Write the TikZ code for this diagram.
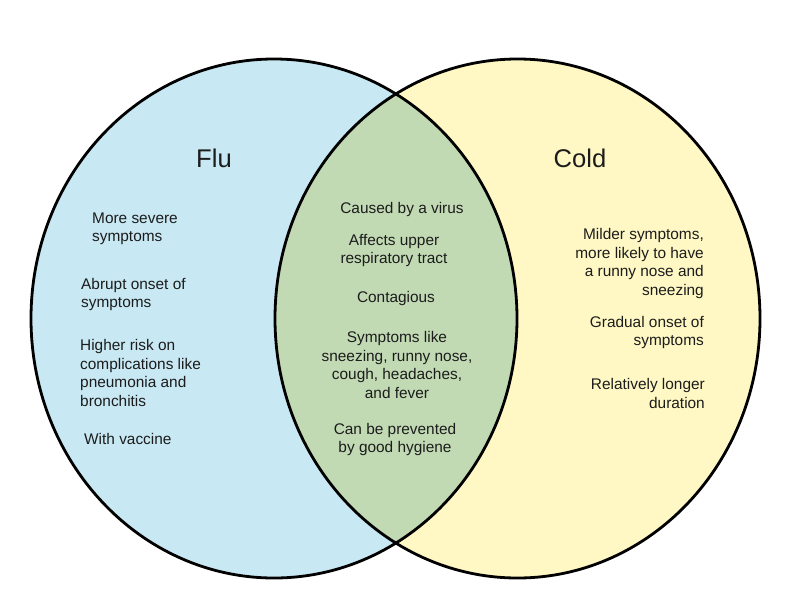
\documentclass[tikz,border=0pt]{standalone}
\usepackage{fontspec}
\setmainfont{Liberation Sans}
\definecolor{flublue}{HTML}{C8E8F3}
\definecolor{coldyellow}{HTML}{FFF8C4}
\definecolor{bothgreen}{HTML}{C1DAB4}
\definecolor{ink}{HTML}{1C1C1C}
\begin{document}
\begin{tikzpicture}[x=1pt,y=-1pt,
  outline/.style={draw=black,line width=2.8pt},
  settitle/.style={inner sep=0pt,text=ink,font=\fontsize{25.6}{30}\selectfont},
  item/.style={inner sep=0pt,text=ink,font=\fontsize{15.4}{18.4}\selectfont},
  itemL/.style={item,align=left,anchor=west},
  itemC/.style={item,align=center},
  itemR/.style={item,align=right,anchor=east}]
\useasboundingbox (0,0) rectangle (800,600);
\fill[white] (0,0) rectangle (800,600);
\coordinate (L) at (274,318.5);
\coordinate (R) at (517.5,318.5);
\def\ellL{(L) ellipse [x radius=243pt, y radius=259.5pt]}
\def\ellR{(R) ellipse [x radius=242.5pt, y radius=259.5pt]}
\fill[flublue] \ellL;
\fill[coldyellow] \ellR;
\begin{scope}
  \clip \ellL;
  \fill[bothgreen] \ellR;
\end{scope}
\draw[outline] \ellL;
\draw[outline] \ellR;
% titles
\node[settitle] (flu) at (214,158) {Flu};
\node[settitle] (cold) at (580,158) {Cold};
% flu only
\node[itemL] (f1) at (92,229) {More severe\\symptoms};
\node[itemL] (f2) at (81,294.5) {Abrupt onset of\\symptoms};
\node[itemL] (f3) at (80,373) {Higher risk on\\complications like\\pneumonia and\\bronchitis};
\node[itemL] (f4) at (84,438.5) {With vaccine};
% both
\node[itemC] (b1) at (402,209.5) {Caused by a virus};
\node[itemC] (b2) at (394,250.5) {Affects upper\\respiratory tract};
\node[itemC] (b3) at (396,298.5) {Contagious};
\node[itemC] (b4) at (397,365) {Symptoms like\\sneezing, runny nose,\\cough, headaches,\\and fever};
\node[itemC] (b5) at (395,439.5) {Can be prevented\\by good hygiene};
% cold only
\node[itemR] (c1) at (704,263.5) {Milder symptoms,\\more likely to have\\a runny nose and\\sneezing};
\node[itemR] (c2) at (704,332.5) {Gradual onset of\\symptoms};
\node[itemR] (c3) at (705,393.5) {Relatively longer\\duration};
\end{tikzpicture}
\end{document}
